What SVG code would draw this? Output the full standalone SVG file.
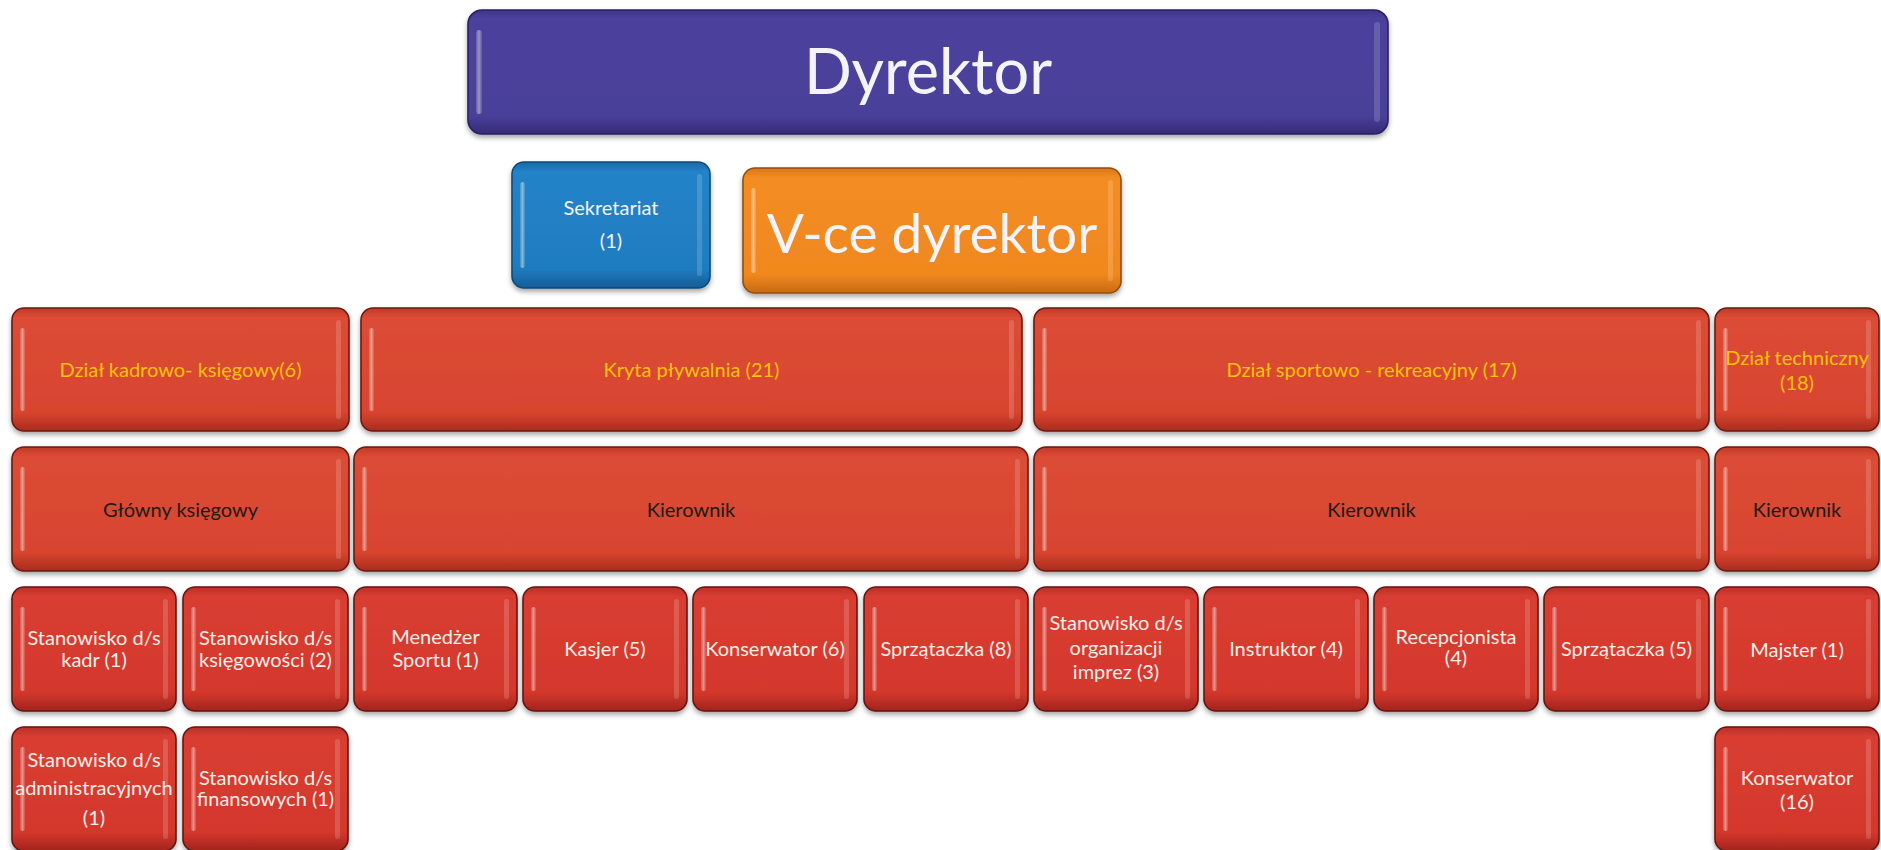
<svg xmlns="http://www.w3.org/2000/svg" width="1881" height="850" viewBox="0 0 1881 850">
<defs>
<linearGradient id="gPurple" x1="0" y1="0" x2="0" y2="1">
<stop offset="0" stop-color="#3e3488"/><stop offset="0.07" stop-color="#4c419c"/><stop offset="0.85" stop-color="#4a3f99"/><stop offset="1" stop-color="#352b78"/>
</linearGradient>
<linearGradient id="gBlue" x1="0" y1="0" x2="0" y2="1">
<stop offset="0" stop-color="#1a6aa8"/><stop offset="0.08" stop-color="#2283c8"/><stop offset="0.85" stop-color="#1f7cc0"/><stop offset="1" stop-color="#155c96"/>
</linearGradient>
<linearGradient id="gOrange" x1="0" y1="0" x2="0" y2="1">
<stop offset="0" stop-color="#d9761a"/><stop offset="0.08" stop-color="#f38d22"/><stop offset="0.85" stop-color="#f0881f"/><stop offset="1" stop-color="#c86a12"/>
</linearGradient>
<linearGradient id="gRed1" x1="0" y1="0" x2="0" y2="1">
<stop offset="0" stop-color="#c03a28"/><stop offset="0.08" stop-color="#dc4c36"/><stop offset="0.85" stop-color="#d8442f"/><stop offset="1" stop-color="#a92c1e"/>
</linearGradient>
<linearGradient id="gRed2" x1="0" y1="0" x2="0" y2="1">
<stop offset="0" stop-color="#b8302a"/><stop offset="0.08" stop-color="#d93e31"/><stop offset="0.85" stop-color="#d3372c"/><stop offset="1" stop-color="#a2241d"/>
</linearGradient>
<linearGradient id="gHL" x1="0" y1="0" x2="1" y2="0">
<stop offset="0" stop-color="#ffffff" stop-opacity="0.15"/><stop offset="0.5" stop-color="#ffffff" stop-opacity="0.45"/><stop offset="1" stop-color="#ffffff" stop-opacity="0.1"/>
</linearGradient>
<filter id="sh" x="-5%" y="-10%" width="110%" height="125%">
<feDropShadow dx="0" dy="3" stdDeviation="2.5" flood-color="#000" flood-opacity="0.35"/>
</filter>
</defs>
<style>
.box{stroke-width:1.6;filter:url(#sh)}
.purple{fill:url(#gPurple);stroke:#2a2260}
.blue{fill:url(#gBlue);stroke:#0f4a7a}
.orange{fill:url(#gOrange);stroke:#8e5010}
.r1{fill:url(#gRed1);stroke:#6a1a10}
.r2{fill:url(#gRed2);stroke:#641612}
.hlL{fill:url(#gHL)}
.hlR{fill:#ffffff;fill-opacity:0.16}
text{font-family:Lato,"Liberation Sans",sans-serif;text-anchor:middle;font-size:20px}
.big{fill:#f4f4f8}
.dept{fill:#ffc20e}
.dark{fill:#1e1a1a}
.lite{fill:#fdeeea}
</style>
<rect width="1881" height="850" fill="#ffffff"/>
<g id="connectors"/>

<g id="dyrektor">
<rect class="box purple" x="468" y="10" width="920" height="124" rx="14"/>
<rect class="hlL" x="476" y="30" width="6" height="84" rx="3"/>
<rect class="hlR" x="1374" y="22" width="6" height="100" rx="3"/>
<text class="big" x="928" y="94" style="font-size:63px">Dyrektor</text>
</g>

<g id="sekretariat">
<rect class="box blue" x="512" y="162" width="198" height="126" rx="12"/>
<rect class="hlL" x="520" y="182" width="5" height="86" rx="2.5"/>
<rect class="hlR" x="697" y="174" width="5" height="102" rx="2.5"/>
<text class="big" x="611" y="215">Sekretariat</text>
<text class="big" x="611" y="248">(1)</text>
</g>

<g id="vce-dyrektor">
<rect class="box orange" x="743" y="168" width="378" height="125" rx="12"/>
<rect class="hlL" x="751" y="188" width="5" height="85" rx="2.5"/>
<rect class="hlR" x="1108" y="180" width="5" height="101" rx="2.5"/>
<text class="big" x="932" y="253" style="font-size:55px">V-ce dyrektor</text>
</g>

<g id="dzial-kadrowo">
<rect class="box r1" x="12" y="308" width="337" height="123" rx="12"/>
<rect class="hlL" x="20" y="328" width="5" height="83" rx="2.5"/>
<rect class="hlR" x="336" y="320" width="5" height="99" rx="2.5"/>
<text class="dept" x="180.5" y="377">Dział kadrowo- księgowy(6)</text>
</g>
<g id="kryta-plywalnia">
<rect class="box r1" x="361" y="308" width="661" height="123" rx="12"/>
<rect class="hlL" x="369" y="328" width="5" height="83" rx="2.5"/>
<rect class="hlR" x="1009" y="320" width="5" height="99" rx="2.5"/>
<text class="dept" x="691.5" y="377">Kryta pływalnia (21)</text>
</g>
<g id="dzial-sportowo">
<rect class="box r1" x="1034" y="308" width="675" height="123" rx="12"/>
<rect class="hlL" x="1042" y="328" width="5" height="83" rx="2.5"/>
<rect class="hlR" x="1696" y="320" width="5" height="99" rx="2.5"/>
<text class="dept" x="1371.5" y="377">Dział sportowo - rekreacyjny (17)</text>
</g>
<g id="dzial-techniczny">
<rect class="box r1" x="1715" y="308" width="164" height="123" rx="12"/>
<rect class="hlL" x="1723" y="328" width="5" height="83" rx="2.5"/>
<rect class="hlR" x="1866" y="320" width="5" height="99" rx="2.5"/>
<text class="dept" x="1797" y="365">Dział techniczny</text>
<text class="dept" x="1797" y="390">(18)</text>
</g>

<g id="glowny-ksiegowy">
<rect class="box r1" x="12" y="447" width="337" height="124" rx="12"/>
<rect class="hlL" x="20" y="467" width="5" height="84" rx="2.5"/>
<rect class="hlR" x="336" y="459" width="5" height="100" rx="2.5"/>
<text class="dark" x="180.5" y="517">Główny księgowy</text>
</g>
<g id="kierownik-plywalnia">
<rect class="box r1" x="354" y="447" width="674" height="124" rx="12"/>
<rect class="hlL" x="362" y="467" width="5" height="84" rx="2.5"/>
<rect class="hlR" x="1015" y="459" width="5" height="100" rx="2.5"/>
<text class="dark" x="691" y="517">Kierownik</text>
</g>
<g id="kierownik-sport">
<rect class="box r1" x="1034" y="447" width="675" height="124" rx="12"/>
<rect class="hlL" x="1042" y="467" width="5" height="84" rx="2.5"/>
<rect class="hlR" x="1696" y="459" width="5" height="100" rx="2.5"/>
<text class="dark" x="1371.5" y="517">Kierownik</text>
</g>
<g id="kierownik-tech">
<rect class="box r1" x="1715" y="447" width="164" height="124" rx="12"/>
<rect class="hlL" x="1723" y="467" width="5" height="84" rx="2.5"/>
<rect class="hlR" x="1866" y="459" width="5" height="100" rx="2.5"/>
<text class="dark" x="1797" y="517">Kierownik</text>
</g>

<g id="st-kadr">
<rect class="box r2" x="12" y="587" width="164" height="124" rx="12"/>
<rect class="hlL" x="20" y="607" width="5" height="84" rx="2.5"/>
<rect class="hlR" x="163" y="599" width="5" height="100" rx="2.5"/>
<text class="lite" x="94" y="645">Stanowisko d/s</text>
<text class="lite" x="94" y="667">kadr (1)</text>
</g>
<g id="st-ksiegowosci">
<rect class="box r2" x="183" y="587" width="165" height="124" rx="12"/>
<rect class="hlL" x="191" y="607" width="5" height="84" rx="2.5"/>
<rect class="hlR" x="335" y="599" width="5" height="100" rx="2.5"/>
<text class="lite" x="265.5" y="645">Stanowisko d/s</text>
<text class="lite" x="265.5" y="667">księgowości (2)</text>
</g>
<g id="menedzer">
<rect class="box r2" x="354" y="587" width="163" height="124" rx="12"/>
<rect class="hlL" x="362" y="607" width="5" height="84" rx="2.5"/>
<rect class="hlR" x="504" y="599" width="5" height="100" rx="2.5"/>
<text class="lite" x="435.5" y="644">Menedżer</text>
<text class="lite" x="435.5" y="667">Sportu (1)</text>
</g>
<g id="kasjer">
<rect class="box r2" x="523" y="587" width="164" height="124" rx="12"/>
<rect class="hlL" x="531" y="607" width="5" height="84" rx="2.5"/>
<rect class="hlR" x="674" y="599" width="5" height="100" rx="2.5"/>
<text class="lite" x="605" y="656">Kasjer (5)</text>
</g>
<g id="konserwator-6">
<rect class="box r2" x="693" y="587" width="164" height="124" rx="12"/>
<rect class="hlL" x="701" y="607" width="5" height="84" rx="2.5"/>
<rect class="hlR" x="844" y="599" width="5" height="100" rx="2.5"/>
<text class="lite" x="775" y="656">Konserwator (6)</text>
</g>
<g id="sprzataczka-8">
<rect class="box r2" x="864" y="587" width="164" height="124" rx="12"/>
<rect class="hlL" x="872" y="607" width="5" height="84" rx="2.5"/>
<rect class="hlR" x="1015" y="599" width="5" height="100" rx="2.5"/>
<text class="lite" x="946" y="656">Sprzątaczka (8)</text>
</g>
<g id="st-imprez">
<rect class="box r2" x="1034" y="587" width="164" height="124" rx="12"/>
<rect class="hlL" x="1042" y="607" width="5" height="84" rx="2.5"/>
<rect class="hlR" x="1185" y="599" width="5" height="100" rx="2.5"/>
<text class="lite" x="1116" y="630">Stanowisko d/s</text>
<text class="lite" x="1116" y="655">organizacji</text>
<text class="lite" x="1116" y="679">imprez (3)</text>
</g>
<g id="instruktor">
<rect class="box r2" x="1204" y="587" width="164" height="124" rx="12"/>
<rect class="hlL" x="1212" y="607" width="5" height="84" rx="2.5"/>
<rect class="hlR" x="1355" y="599" width="5" height="100" rx="2.5"/>
<text class="lite" x="1286" y="656">Instruktor (4)</text>
</g>
<g id="recepcjonista">
<rect class="box r2" x="1374" y="587" width="164" height="124" rx="12"/>
<rect class="hlL" x="1382" y="607" width="5" height="84" rx="2.5"/>
<rect class="hlR" x="1525" y="599" width="5" height="100" rx="2.5"/>
<text class="lite" x="1456" y="644">Recepcjonista</text>
<text class="lite" x="1456" y="665">(4)</text>
</g>
<g id="sprzataczka-5">
<rect class="box r2" x="1544" y="587" width="165" height="124" rx="12"/>
<rect class="hlL" x="1552" y="607" width="5" height="84" rx="2.5"/>
<rect class="hlR" x="1696" y="599" width="5" height="100" rx="2.5"/>
<text class="lite" x="1626.5" y="656">Sprzątaczka (5)</text>
</g>
<g id="majster">
<rect class="box r2" x="1715" y="587" width="164" height="124" rx="12"/>
<rect class="hlL" x="1723" y="607" width="5" height="84" rx="2.5"/>
<rect class="hlR" x="1866" y="599" width="5" height="100" rx="2.5"/>
<text class="lite" x="1797" y="657">Majster (1)</text>
</g>

<g id="st-administracyjnych">
<rect class="box r2" x="12" y="727" width="164" height="124" rx="12"/>
<rect class="hlL" x="20" y="747" width="5" height="84" rx="2.5"/>
<rect class="hlR" x="163" y="739" width="5" height="100" rx="2.5"/>
<text class="lite" x="94" y="767">Stanowisko d/s</text>
<text class="lite" x="94" y="795">administracyjnych</text>
<text class="lite" x="94" y="825">(1)</text>
</g>
<g id="st-finansowych">
<rect class="box r2" x="183" y="727" width="165" height="124" rx="12"/>
<rect class="hlL" x="191" y="747" width="5" height="84" rx="2.5"/>
<rect class="hlR" x="335" y="739" width="5" height="100" rx="2.5"/>
<text class="lite" x="265.5" y="785">Stanowisko d/s</text>
<text class="lite" x="265.5" y="806">finansowych (1)</text>
</g>
<g id="konserwator-16">
<rect class="box r2" x="1715" y="727" width="164" height="124" rx="12"/>
<rect class="hlL" x="1723" y="747" width="5" height="84" rx="2.5"/>
<rect class="hlR" x="1866" y="739" width="5" height="100" rx="2.5"/>
<text class="lite" x="1797" y="785">Konserwator</text>
<text class="lite" x="1797" y="809">(16)</text>
</g>
</svg>
